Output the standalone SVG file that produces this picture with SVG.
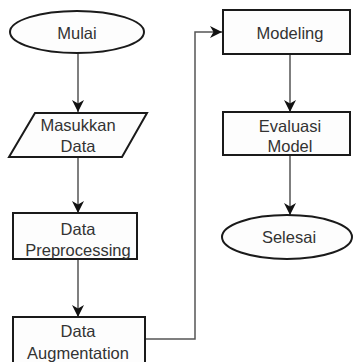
<svg xmlns="http://www.w3.org/2000/svg" width="353" height="362" viewBox="0 0 353 362">
<style>
.shape{fill:#fdfdfd;stroke:#1a1a1a;stroke-width:2}
.lbl{font-family:"Liberation Sans",Arial,sans-serif;font-size:16.5px;fill:#333;text-anchor:middle}
.conn{fill:none;stroke:#555;stroke-width:1.5}
</style>
<defs>
<marker id="arr" viewBox="0 0 12 12" refX="12" refY="6" markerWidth="12" markerHeight="12" markerUnits="userSpaceOnUse" orient="auto">
<path d="M0,0 L12,6 L0,12 L3.5,6 z" fill="#111"/>
</marker>
</defs>
<rect width="353" height="362" fill="#fff"/>
<g id="connectors">
<line class="conn" x1="78" y1="53" x2="78" y2="112" marker-end="url(#arr)"/>
<line class="conn" x1="78" y1="157" x2="78" y2="213" marker-end="url(#arr)"/>
<line class="conn" x1="78" y1="259" x2="78" y2="317" marker-end="url(#arr)"/>
<polyline class="conn" points="145,339 195,339 195,32 222,32" marker-end="url(#arr)"/>
<line class="conn" x1="290" y1="54" x2="290" y2="112" marker-end="url(#arr)"/>
<line class="conn" x1="290" y1="155" x2="290" y2="215" marker-end="url(#arr)"/>
</g>
<g id="mulai">
<ellipse class="shape" cx="77" cy="32" rx="67" ry="21"/>
<text class="lbl" x="77" y="39">Mulai</text>
</g>
<g id="masukkan">
<polygon class="shape" points="35,113 147,113 122,157 9,157"/>
<text class="lbl" x="78" y="131">Masukkan</text>
<text class="lbl" x="78" y="152">Data</text>
</g>
<g id="preprocessing">
<rect class="shape" x="13" y="213" width="124" height="46"/>
<text class="lbl" x="78" y="235">Data</text>
<text class="lbl" x="78" y="256">Preprocessing</text>
</g>
<g id="augmentation">
<rect class="shape" x="13" y="317" width="132" height="50"/>
<text class="lbl" x="78" y="337">Data</text>
<text class="lbl" x="78" y="359">Augmentation</text>
</g>
<g id="modeling">
<rect class="shape" x="223" y="10" width="127" height="44"/>
<text class="lbl" x="290" y="39">Modeling</text>
</g>
<g id="evaluasi">
<rect class="shape" x="223" y="112" width="127" height="43"/>
<text class="lbl" x="290" y="132">Evaluasi</text>
<text class="lbl" x="290" y="152">Model</text>
</g>
<g id="selesai">
<ellipse class="shape" cx="287" cy="237" rx="65" ry="22"/>
<text class="lbl" x="289" y="243">Selesai</text>
</g>
</svg>
